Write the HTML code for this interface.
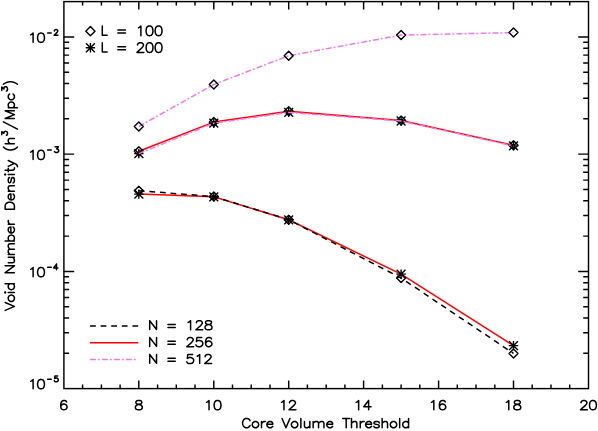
<!DOCTYPE html>
<html><head><meta charset="utf-8"><title>plot</title>
<style>html,body{margin:0;padding:0;background:#fff;}body{width:598px;height:431px;overflow:hidden;}svg{display:block;}</style>
</head><body>
<svg width="598" height="431" viewBox="0 0 598 431">
<rect x="0" y="0" width="598" height="431" fill="#ffffff"/>
<polyline points="138.8,194.1 213.8,196.8 288.7,219.8 401.1,274.1 513.5,345.6" fill="none" stroke="#ff0000" stroke-width="1.50" stroke-linejoin="round"/>
<polyline points="138.8,190.7 213.8,196.6 288.7,219.7 401.1,278.0 513.5,353.4" fill="none" stroke="#000" stroke-width="1.50" stroke-dasharray="5.8,4.8" stroke-linejoin="round"/>
<polyline points="138.8,151.2 213.8,122.1 288.7,111.3 401.1,120.4 513.5,145.3" fill="none" stroke="#ff0000" stroke-width="1.50" stroke-linejoin="round"/>
<polyline points="138.8,126.5 213.8,84.5 288.7,55.7 401.1,35.1 513.5,32.6" fill="none" stroke="#ee78ee" stroke-width="1.50" stroke-dasharray="5.9,2.0,1.8,2.3" stroke-linejoin="round"/>
<path d="M134.3,126.5 L138.8,122.0 L143.3,126.5 L138.8,131.0 Z" fill="none" stroke="#000" stroke-width="1.40" stroke-linejoin="round"/>
<path d="M209.3,84.5 L213.8,80.0 L218.3,84.5 L213.8,89.0 Z" fill="none" stroke="#000" stroke-width="1.40" stroke-linejoin="round"/>
<path d="M284.2,55.7 L288.7,51.2 L293.2,55.7 L288.7,60.2 Z" fill="none" stroke="#000" stroke-width="1.40" stroke-linejoin="round"/>
<path d="M396.6,35.1 L401.1,30.6 L405.6,35.1 L401.1,39.6 Z" fill="none" stroke="#000" stroke-width="1.40" stroke-linejoin="round"/>
<path d="M509.0,32.6 L513.5,28.1 L518.0,32.6 L513.5,37.1 Z" fill="none" stroke="#000" stroke-width="1.40" stroke-linejoin="round"/>
<path d="M134.3,151.2 L138.8,146.7 L143.3,151.2 L138.8,155.7 Z" fill="none" stroke="#000" stroke-width="1.40" stroke-linejoin="round"/>
<path d="M209.3,122.1 L213.8,117.6 L218.3,122.1 L213.8,126.6 Z" fill="none" stroke="#000" stroke-width="1.40" stroke-linejoin="round"/>
<path d="M284.2,111.3 L288.7,106.8 L293.2,111.3 L288.7,115.8 Z" fill="none" stroke="#000" stroke-width="1.40" stroke-linejoin="round"/>
<path d="M396.6,120.4 L401.1,115.9 L405.6,120.4 L401.1,124.9 Z" fill="none" stroke="#000" stroke-width="1.40" stroke-linejoin="round"/>
<path d="M509.0,145.3 L513.5,140.8 L518.0,145.3 L513.5,149.8 Z" fill="none" stroke="#000" stroke-width="1.40" stroke-linejoin="round"/>
<path d="M134.3,190.7 L138.8,186.2 L143.3,190.7 L138.8,195.2 Z" fill="none" stroke="#000" stroke-width="1.40" stroke-linejoin="round"/>
<path d="M209.3,196.6 L213.8,192.1 L218.3,196.6 L213.8,201.1 Z" fill="none" stroke="#000" stroke-width="1.40" stroke-linejoin="round"/>
<path d="M284.2,219.7 L288.7,215.2 L293.2,219.7 L288.7,224.2 Z" fill="none" stroke="#000" stroke-width="1.40" stroke-linejoin="round"/>
<path d="M396.6,278.0 L401.1,273.5 L405.6,278.0 L401.1,282.5 Z" fill="none" stroke="#000" stroke-width="1.40" stroke-linejoin="round"/>
<path d="M509.0,353.4 L513.5,348.9 L518.0,353.4 L513.5,357.9 Z" fill="none" stroke="#000" stroke-width="1.40" stroke-linejoin="round"/>
<path d="M134.1,153.6 H143.5 M138.8,148.9 V158.3 M134.4,149.2 L143.3,158.0 M134.4,158.0 L143.3,149.2" fill="none" stroke="#000" stroke-width="1.40"/>
<path d="M209.1,123.2 H218.5 M213.8,118.5 V127.9 M209.4,118.8 L218.2,127.6 M209.4,127.6 L218.2,118.8" fill="none" stroke="#000" stroke-width="1.40"/>
<path d="M284.0,112.4 H293.4 M288.7,107.7 V117.1 M284.3,108.0 L293.1,116.8 M284.3,116.8 L293.1,108.0" fill="none" stroke="#000" stroke-width="1.40"/>
<path d="M396.4,121.0 H405.8 M401.1,116.3 V125.7 M396.7,116.6 L405.5,125.4 M396.7,125.4 L405.5,116.6" fill="none" stroke="#000" stroke-width="1.40"/>
<path d="M508.8,145.9 H518.2 M513.5,141.2 V150.6 M509.1,141.5 L517.9,150.3 M509.1,150.3 L517.9,141.5" fill="none" stroke="#000" stroke-width="1.40"/>
<path d="M134.1,194.1 H143.5 M138.8,189.4 V198.8 M134.4,189.7 L143.3,198.5 M134.4,198.5 L143.3,189.7" fill="none" stroke="#000" stroke-width="1.40"/>
<path d="M209.1,196.8 H218.5 M213.8,192.1 V201.5 M209.4,192.4 L218.2,201.2 M209.4,201.2 L218.2,192.4" fill="none" stroke="#000" stroke-width="1.40"/>
<path d="M284.0,219.8 H293.4 M288.7,215.1 V224.5 M284.3,215.4 L293.1,224.2 M284.3,224.2 L293.1,215.4" fill="none" stroke="#000" stroke-width="1.40"/>
<path d="M396.4,274.1 H405.8 M401.1,269.4 V278.8 M396.7,269.7 L405.5,278.5 M396.7,278.5 L405.5,269.7" fill="none" stroke="#000" stroke-width="1.40"/>
<path d="M508.8,345.6 H518.2 M513.5,340.9 V350.3 M509.1,341.2 L517.9,350.0 M509.1,350.0 L517.9,341.2" fill="none" stroke="#000" stroke-width="1.40"/>
<polyline points="138.8,153.6 213.8,123.2 288.7,112.4 401.1,121.0 513.5,145.9" fill="none" stroke="#ee78ee" stroke-width="1.50" stroke-dasharray="5.9,2.0,1.8,2.3" stroke-linejoin="round"/>
<rect x="63.9" y="1.6" width="524.6" height="387.0" fill="none" stroke="#000" stroke-width="1.45"/>
<path d="M82.6,388.6 V384.6 M82.6,1.6 V5.6 M101.4,388.6 V384.6 M101.4,1.6 V5.6 M120.1,388.6 V384.6 M120.1,1.6 V5.6 M138.8,388.6 V380.6 M138.8,1.6 V9.6 M157.6,388.6 V384.6 M157.6,1.6 V5.6 M176.3,388.6 V384.6 M176.3,1.6 V5.6 M195.0,388.6 V384.6 M195.0,1.6 V5.6 M213.8,388.6 V380.6 M213.8,1.6 V9.6 M232.5,388.6 V384.6 M232.5,1.6 V5.6 M251.2,388.6 V384.6 M251.2,1.6 V5.6 M270.0,388.6 V384.6 M270.0,1.6 V5.6 M288.7,388.6 V380.6 M288.7,1.6 V9.6 M307.4,388.6 V384.6 M307.4,1.6 V5.6 M326.2,388.6 V384.6 M326.2,1.6 V5.6 M344.9,388.6 V384.6 M344.9,1.6 V5.6 M363.6,388.6 V380.6 M363.6,1.6 V9.6 M382.4,388.6 V384.6 M382.4,1.6 V5.6 M401.1,388.6 V384.6 M401.1,1.6 V5.6 M419.8,388.6 V384.6 M419.8,1.6 V5.6 M438.6,388.6 V380.6 M438.6,1.6 V9.6 M457.3,388.6 V384.6 M457.3,1.6 V5.6 M476.0,388.6 V384.6 M476.0,1.6 V5.6 M494.8,388.6 V384.6 M494.8,1.6 V5.6 M513.5,388.6 V380.6 M513.5,1.6 V9.6 M532.2,388.6 V384.6 M532.2,1.6 V5.6 M551.0,388.6 V384.6 M551.0,1.6 V5.6 M569.7,388.6 V384.6 M569.7,1.6 V5.6 M63.9,353.3 H69.1 M588.5,353.3 H583.2 M63.9,332.7 H69.1 M588.5,332.7 H583.2 M63.9,318.0 H69.1 M588.5,318.0 H583.2 M63.9,306.7 H69.1 M588.5,306.7 H583.2 M63.9,297.4 H69.1 M588.5,297.4 H583.2 M63.9,289.5 H69.1 M588.5,289.5 H583.2 M63.9,282.7 H69.1 M588.5,282.7 H583.2 M63.9,276.7 H69.1 M588.5,276.7 H583.2 M63.9,271.4 H74.2 M588.5,271.4 H578.2 M63.9,236.1 H69.1 M588.5,236.1 H583.2 M63.9,215.4 H69.1 M588.5,215.4 H583.2 M63.9,200.8 H69.1 M588.5,200.8 H583.2 M63.9,189.4 H69.1 M588.5,189.4 H583.2 M63.9,180.1 H69.1 M588.5,180.1 H583.2 M63.9,172.3 H69.1 M588.5,172.3 H583.2 M63.9,165.5 H69.1 M588.5,165.5 H583.2 M63.9,159.5 H69.1 M588.5,159.5 H583.2 M63.9,154.1 H74.2 M588.5,154.1 H578.2 M63.9,118.8 H69.1 M588.5,118.8 H583.2 M63.9,98.2 H69.1 M588.5,98.2 H583.2 M63.9,83.5 H69.1 M588.5,83.5 H583.2 M63.9,72.2 H69.1 M588.5,72.2 H583.2 M63.9,62.9 H69.1 M588.5,62.9 H583.2 M63.9,55.1 H69.1 M588.5,55.1 H583.2 M63.9,48.3 H69.1 M588.5,48.3 H583.2 M63.9,42.3 H69.1 M588.5,42.3 H583.2 M63.9,36.9 H74.2 M588.5,36.9 H578.2" fill="none" stroke="#000" stroke-width="1.45"/>
<path d="M85.8,31.2 L90.4,26.6 L95.0,31.2 L90.4,35.8 Z" fill="none" stroke="#000" stroke-width="1.40" stroke-linejoin="round"/>
<path d="M85.7,47.8 H95.1 M90.4,43.0 V52.5 M86.0,43.3 L94.8,52.2 M86.0,52.2 L94.8,43.3" fill="none" stroke="#000" stroke-width="1.40"/>
<path d="M90.0,325.9 H138.2" stroke="#000" stroke-width="1.5" stroke-dasharray="5.8,4.8" fill="none"/>
<path d="M90.0,342.7 H138.2" stroke="#ff0000" stroke-width="1.5" fill="none"/>
<path d="M90.0,359.5 H136.0" stroke="#ee78ee" stroke-width="1.5" stroke-dasharray="5.9,2.0,1.8,2.3" fill="none"/>
<path d="M66.59,401.88 L66.11,401.00 L64.64,400.56 L63.66,400.56 L62.19,401.00 L61.20,402.32 L60.72,404.52 L60.72,406.72 L61.20,408.48 L62.19,409.36 L63.66,409.80 L64.14,409.80 L65.61,409.36 L66.59,408.48 L67.09,407.16 L67.09,406.72 L66.59,405.40 L65.61,404.52 L64.14,404.08 L63.66,404.08 L62.19,404.52 L61.20,405.40 L60.72,406.72 M137.86,400.56 L136.39,401.00 L135.90,401.88 L135.90,402.76 L136.39,403.64 L137.37,404.08 L139.33,404.52 L140.80,404.96 L141.78,405.84 L142.27,406.72 L142.27,408.04 L141.78,408.92 L141.29,409.36 L139.82,409.80 L137.86,409.80 L136.39,409.36 L135.90,408.92 L135.41,408.04 L135.41,406.72 L135.90,405.84 L136.88,404.96 L138.35,404.52 L140.31,404.08 L141.29,403.64 L141.78,402.76 L141.78,401.88 L141.29,401.00 L139.82,400.56 L137.86,400.56 M206.58,402.32 L207.56,401.88 L209.03,400.56 L209.03,409.80 M217.05,400.56 L215.58,401.00 L214.60,402.32 L214.11,404.52 L214.11,405.84 L214.60,408.04 L215.58,409.36 L217.05,409.80 L218.03,409.80 L219.50,409.36 L220.48,408.04 L220.97,405.84 L220.97,404.52 L220.48,402.32 L219.50,401.00 L218.03,400.56 L217.05,400.56 M281.51,402.32 L282.49,401.88 L283.96,400.56 L283.96,409.80 M289.53,402.76 L289.53,402.32 L290.02,401.44 L290.51,401.00 L291.49,400.56 L293.45,400.56 L294.43,401.00 L294.92,401.44 L295.41,402.32 L295.41,403.20 L294.92,404.08 L293.94,405.40 L289.04,409.80 L295.90,409.80 M356.20,402.32 L357.18,401.88 L358.65,400.56 L358.65,409.80 M368.63,400.56 L363.73,406.72 L371.08,406.72 M368.63,400.56 L368.63,409.80 M431.38,402.32 L432.36,401.88 L433.83,400.56 L433.83,409.80 M445.28,401.88 L444.79,401.00 L443.32,400.56 L442.34,400.56 L440.87,401.00 L439.89,402.32 L439.40,404.52 L439.40,406.72 L439.89,408.48 L440.87,409.36 L442.34,409.80 L442.83,409.80 L444.30,409.36 L445.28,408.48 L445.77,407.16 L445.77,406.72 L445.28,405.40 L444.30,404.52 L442.83,404.08 L442.34,404.08 L440.87,404.52 L439.89,405.40 L439.40,406.72 M506.32,402.32 L507.30,401.88 L508.77,400.56 L508.77,409.80 M516.30,400.56 L514.83,401.00 L514.34,401.88 L514.34,402.76 L514.83,403.64 L515.81,404.08 L517.77,404.52 L519.24,404.96 L520.22,405.84 L520.71,406.72 L520.71,408.04 L520.22,408.92 L519.73,409.36 L518.26,409.80 L516.30,409.80 L514.83,409.36 L514.34,408.92 L513.85,408.04 L513.85,406.72 L514.34,405.84 L515.32,404.96 L516.79,404.52 L518.75,404.08 L519.73,403.64 L520.22,402.76 L520.22,401.88 L519.73,401.00 L518.26,400.56 L516.30,400.56 M581.01,402.76 L581.01,402.32 L581.50,401.44 L581.99,401.00 L582.97,400.56 L584.93,400.56 L585.91,401.00 L586.40,401.44 L586.89,402.32 L586.89,403.20 L586.40,404.08 L585.42,405.40 L580.52,409.80 L587.38,409.80 M592.46,400.56 L590.99,401.00 L590.01,402.32 L589.52,404.52 L589.52,405.84 L590.01,408.04 L590.99,409.36 L592.46,409.80 L593.44,409.80 L594.91,409.36 L595.89,408.04 L596.38,405.84 L596.38,404.52 L595.89,402.32 L594.91,401.00 L593.44,400.56 L592.46,400.56 M30.65,381.32 L31.63,380.88 L33.10,379.56 L33.10,388.80 M40.53,379.56 L39.06,380.00 L38.08,381.32 L37.59,383.52 L37.59,384.84 L38.08,387.04 L39.06,388.36 L40.53,388.80 L41.51,388.80 L42.98,388.36 L43.96,387.04 L44.45,384.84 L44.45,383.52 L43.96,381.32 L42.98,380.00 L41.51,379.56 L40.53,379.56 M47.65,379.34 L51.25,379.34 M57.69,376.07 L54.91,376.07 L54.63,378.53 L54.91,378.25 L55.74,377.98 L56.58,377.98 L57.41,378.25 L57.97,378.80 L58.25,379.62 L58.25,380.16 L57.97,380.98 L57.41,381.53 L56.58,381.80 L55.74,381.80 L54.91,381.53 L54.63,381.25 L54.35,380.71 M30.65,269.33 L31.63,268.89 L33.10,267.57 L33.10,276.81 M40.53,267.57 L39.06,268.01 L38.08,269.33 L37.59,271.53 L37.59,272.85 L38.08,275.05 L39.06,276.37 L40.53,276.81 L41.51,276.81 L42.98,276.37 L43.96,275.05 L44.45,272.85 L44.45,271.53 L43.96,269.33 L42.98,268.01 L41.51,267.57 L40.53,267.57 M47.65,267.36 L51.25,267.36 M56.50,264.09 L53.60,267.90 L57.95,267.90 M56.50,264.09 L56.50,269.81 M30.65,152.10 L31.63,151.66 L33.10,150.34 L33.10,159.58 M40.53,150.34 L39.06,150.78 L38.08,152.10 L37.59,154.30 L37.59,155.62 L38.08,157.82 L39.06,159.14 L40.53,159.58 L41.51,159.58 L42.98,159.14 L43.96,157.82 L44.45,155.62 L44.45,154.30 L43.96,152.10 L42.98,150.78 L41.51,150.34 L40.53,150.34 M47.65,150.12 L51.25,150.12 M55.14,146.85 L58.36,146.85 L56.60,149.03 L57.48,149.03 L58.06,149.30 L58.36,149.58 L58.65,150.40 L58.65,150.94 L58.36,151.76 L57.77,152.30 L56.89,152.58 L56.01,152.58 L55.14,152.30 L54.84,152.03 L54.55,151.49 M30.65,34.86 L31.63,34.42 L33.10,33.10 L33.10,42.34 M40.53,33.10 L39.06,33.54 L38.08,34.86 L37.59,37.06 L37.59,38.38 L38.08,40.58 L39.06,41.90 L40.53,42.34 L41.51,42.34 L42.98,41.90 L43.96,40.58 L44.45,38.38 L44.45,37.06 L43.96,34.86 L42.98,33.54 L41.51,33.10 L40.53,33.10 M47.65,32.89 L51.25,32.89 M54.42,30.98 L54.42,30.70 L54.69,30.16 L54.96,29.89 L55.51,29.61 L56.59,29.61 L57.14,29.89 L57.41,30.16 L57.68,30.70 L57.68,31.25 L57.41,31.80 L56.86,32.61 L54.15,35.34 L57.95,35.34 M102.30,26.11 L102.30,35.35 M102.30,35.35 L107.15,35.35 M117.85,30.11 L125.45,30.11 M117.85,33.02 L125.45,33.02 M138.45,27.83 L139.43,27.37 L140.90,25.99 L140.90,35.65 M149.00,25.99 L147.53,26.45 L146.56,27.83 L146.06,30.13 L146.06,31.51 L146.56,33.81 L147.53,35.19 L149.00,35.65 L149.99,35.65 L151.46,35.19 L152.44,33.81 L152.93,31.51 L152.93,30.13 L152.44,27.83 L151.46,26.45 L149.99,25.99 L149.00,25.99 M158.09,25.99 L156.62,26.45 L155.64,27.83 L155.15,30.13 L155.15,31.51 L155.64,33.81 L156.62,35.19 L158.09,35.65 L159.07,35.65 L160.54,35.19 L161.52,33.81 L162.01,31.51 L162.01,30.13 L161.52,27.83 L160.54,26.45 L159.07,25.99 L158.09,25.99 M102.30,42.86 L102.30,52.10 M102.30,52.10 L107.15,52.10 M117.85,46.86 L125.45,46.86 M117.85,49.77 L125.45,49.77 M137.54,45.04 L137.54,44.58 L138.03,43.66 L138.52,43.20 L139.50,42.74 L141.46,42.74 L142.44,43.20 L142.93,43.66 L143.42,44.58 L143.42,45.50 L142.93,46.42 L141.95,47.80 L137.05,52.40 L143.91,52.40 M149.04,42.74 L147.57,43.20 L146.59,44.58 L146.10,46.88 L146.10,48.26 L146.59,50.56 L147.57,51.94 L149.04,52.40 L150.02,52.40 L151.49,51.94 L152.47,50.56 L152.96,48.26 L152.96,46.88 L152.47,44.58 L151.49,43.20 L150.02,42.74 L149.04,42.74 M158.09,42.74 L156.62,43.20 L155.64,44.58 L155.15,46.88 L155.15,48.26 L155.64,50.56 L156.62,51.94 L158.09,52.40 L159.07,52.40 L160.54,51.94 L161.52,50.56 L162.01,48.26 L162.01,46.88 L161.52,44.58 L160.54,43.20 L159.07,42.74 L158.09,42.74 M149.70,320.68 L149.70,329.50 M149.70,320.68 L156.52,329.50 M156.52,320.68 L156.52,329.50 M167.95,324.46 L175.25,324.46 M167.95,327.40 L175.25,327.40 M188.15,322.41 L189.13,321.97 L190.60,320.67 L190.60,329.80 M196.38,322.84 L196.38,322.41 L196.87,321.54 L197.35,321.10 L198.34,320.67 L200.29,320.67 L201.28,321.10 L201.76,321.54 L202.25,322.41 L202.25,323.28 L201.76,324.15 L200.78,325.45 L195.88,329.80 L202.75,329.80 M207.54,320.67 L206.07,321.10 L205.58,321.97 L205.58,322.84 L206.07,323.71 L207.05,324.15 L209.01,324.58 L210.48,325.01 L211.46,325.88 L211.95,326.75 L211.95,328.06 L211.46,328.93 L210.97,329.37 L209.50,329.80 L207.54,329.80 L206.07,329.37 L205.58,328.93 L205.09,328.06 L205.09,326.75 L205.58,325.88 L206.56,325.01 L208.03,324.58 L209.99,324.15 L210.97,323.71 L211.46,322.84 L211.46,321.97 L210.97,321.10 L209.50,320.67 L207.54,320.67 M149.70,337.58 L149.70,346.40 M149.70,337.58 L156.52,346.40 M156.52,337.58 L156.52,346.40 M167.95,341.36 L175.25,341.36 M167.95,344.30 L175.25,344.30 M187.29,339.74 L187.29,339.31 L187.78,338.44 L188.27,338.00 L189.25,337.56 L191.21,337.56 L192.19,338.00 L192.68,338.44 L193.17,339.31 L193.17,340.18 L192.68,341.05 L191.70,342.35 L186.80,346.70 L193.66,346.70 M201.82,337.56 L196.93,337.56 L196.44,341.48 L196.93,341.05 L198.40,340.61 L199.87,340.61 L201.34,341.05 L202.31,341.91 L202.81,343.22 L202.81,344.09 L202.31,345.39 L201.34,346.26 L199.87,346.70 L198.40,346.70 L196.93,346.26 L196.44,345.83 L195.94,344.96 M211.46,338.87 L210.97,338.00 L209.50,337.56 L208.52,337.56 L207.05,338.00 L206.07,339.31 L205.58,341.48 L205.58,343.65 L206.07,345.39 L207.05,346.26 L208.52,346.70 L209.01,346.70 L210.48,346.26 L211.46,345.39 L211.95,344.09 L211.95,343.65 L211.46,342.35 L210.48,341.48 L209.01,341.05 L208.52,341.05 L207.05,341.48 L206.07,342.35 L205.58,343.65 M149.70,354.48 L149.70,363.30 M149.70,354.48 L156.52,363.30 M156.52,354.48 L156.52,363.30 M167.95,358.26 L175.25,358.26 M167.95,361.20 L175.25,361.20 M192.68,354.47 L187.78,354.47 L187.29,358.38 L187.78,357.95 L189.25,357.51 L190.72,357.51 L192.19,357.95 L193.17,358.81 L193.66,360.12 L193.66,360.99 L193.17,362.30 L192.19,363.17 L190.72,363.60 L189.25,363.60 L187.78,363.17 L187.29,362.73 L186.80,361.86 M197.22,356.21 L198.20,355.77 L199.67,354.47 L199.67,363.60 M205.18,356.64 L205.18,356.21 L205.67,355.34 L206.16,354.90 L207.14,354.47 L209.10,354.47 L210.08,354.90 L210.57,355.34 L211.06,356.21 L211.06,357.08 L210.57,357.95 L209.59,359.25 L204.69,363.60 L211.55,363.60 M250.00,420.66 L249.51,419.78 L248.53,418.90 L247.55,418.46 L245.59,418.46 L244.61,418.90 L243.63,419.78 L243.14,420.66 L242.65,421.98 L242.65,424.18 L243.14,425.50 L243.63,426.38 L244.61,427.26 L245.59,427.70 L247.55,427.70 L248.53,427.26 L249.51,426.38 L250.00,425.50 M254.72,421.54 L253.74,421.98 L252.76,422.86 L252.27,424.18 L252.27,425.06 L252.76,426.38 L253.74,427.26 L254.72,427.70 L256.19,427.70 L257.17,427.26 L258.15,426.38 L258.64,425.06 L258.64,424.18 L258.15,422.86 L257.17,421.98 L256.19,421.54 L254.72,421.54 M261.49,421.54 L261.49,427.70 M261.49,424.18 L261.98,422.86 L262.96,421.98 L263.94,421.54 L265.41,421.54 M266.87,424.18 L272.75,424.18 L272.75,423.30 L272.26,422.42 L271.77,421.98 L270.79,421.54 L269.32,421.54 L268.34,421.98 L267.36,422.86 L266.87,424.18 L266.87,425.06 L267.36,426.38 L268.34,427.26 L269.32,427.70 L270.79,427.70 L271.77,427.26 L272.75,426.38 M282.05,418.46 L285.97,427.70 M289.89,418.46 L285.97,427.70 M293.86,421.54 L292.88,421.98 L291.90,422.86 L291.41,424.18 L291.41,425.06 L291.90,426.38 L292.88,427.26 L293.86,427.70 L295.33,427.70 L296.31,427.26 L297.29,426.38 L297.78,425.06 L297.78,424.18 L297.29,422.86 L296.31,421.98 L295.33,421.54 L293.86,421.54 M300.86,418.46 L300.86,427.70 M304.46,421.54 L304.46,425.94 L304.95,427.26 L305.93,427.70 L307.40,427.70 L308.38,427.26 L309.85,425.94 M309.85,421.54 L309.85,427.70 M313.15,421.54 L313.15,427.70 M313.15,423.30 L314.62,421.98 L315.60,421.54 L317.07,421.54 L318.05,421.98 L318.54,423.30 L318.54,427.70 M318.54,423.30 L320.01,421.98 L320.99,421.54 L322.46,421.54 L323.44,421.98 L323.93,423.30 L323.93,427.70 M326.77,424.18 L332.65,424.18 L332.65,423.30 L332.16,422.42 L331.67,421.98 L330.69,421.54 L329.22,421.54 L328.24,421.98 L327.26,422.86 L326.77,424.18 L326.77,425.06 L327.26,426.38 L328.24,427.26 L329.22,427.70 L330.69,427.70 L331.67,427.26 L332.65,426.38 M346.18,418.46 L346.18,427.70 M342.75,418.46 L349.61,418.46 M351.50,418.46 L351.50,427.70 M351.50,423.30 L352.97,421.98 L353.95,421.54 L355.42,421.54 L356.40,421.98 L356.89,423.30 L356.89,427.70 M360.25,421.54 L360.25,427.70 M360.25,424.18 L360.74,422.86 L361.72,421.98 L362.70,421.54 L364.17,421.54 M365.64,424.18 L371.52,424.18 L371.52,423.30 L371.03,422.42 L370.54,421.98 L369.56,421.54 L368.09,421.54 L367.11,421.98 L366.13,422.86 L365.64,424.18 L365.64,425.06 L366.13,426.38 L367.11,427.26 L368.09,427.70 L369.56,427.70 L370.54,427.26 L371.52,426.38 M379.29,422.86 L378.80,421.98 L377.33,421.54 L375.86,421.54 L374.39,421.98 L373.90,422.86 L374.39,423.74 L375.37,424.18 L377.82,424.62 L378.80,425.06 L379.29,425.94 L379.29,426.38 L378.80,427.26 L377.33,427.70 L375.86,427.70 L374.39,427.26 L373.90,426.38 M382.13,418.46 L382.13,427.70 M382.13,423.30 L383.60,421.98 L384.58,421.54 L386.05,421.54 L387.03,421.98 L387.52,423.30 L387.52,427.70 M392.78,421.54 L391.80,421.98 L390.82,422.86 L390.33,424.18 L390.33,425.06 L390.82,426.38 L391.80,427.26 L392.78,427.70 L394.25,427.70 L395.23,427.26 L396.21,426.38 L396.70,425.06 L396.70,424.18 L396.21,422.86 L395.23,421.98 L394.25,421.54 L392.78,421.54 M399.67,418.46 L399.67,427.70 M408.55,418.46 L408.55,427.70 M408.55,422.86 L407.57,421.98 L406.59,421.54 L405.12,421.54 L404.14,421.98 L403.16,422.86 L402.67,424.18 L402.67,425.06 L403.16,426.38 L404.14,427.26 L405.12,427.70 L406.59,427.70 L407.57,427.26 L408.55,426.38" fill="none" stroke="#000" stroke-width="1.50" stroke-linecap="round" stroke-linejoin="round"/>
<path transform="translate(14.40,311.10) rotate(-90)" d="M0.75,-9.24 L4.67,0.00 M8.59,-9.24 L4.67,0.00 M12.08,-6.16 L11.10,-5.72 L10.12,-4.84 L9.63,-3.52 L9.63,-2.64 L10.12,-1.32 L11.10,-0.44 L12.08,0.00 L13.55,0.00 L14.53,-0.44 L15.51,-1.32 L16.00,-2.64 L16.00,-3.52 L15.51,-4.84 L14.53,-5.72 L13.55,-6.16 L12.08,-6.16 M18.22,-9.24 L18.71,-8.80 L19.20,-9.24 L18.71,-9.68 L18.22,-9.24 M18.71,-6.16 L18.71,0.00 M27.35,-9.24 L27.35,0.00 M27.35,-4.84 L26.37,-5.72 L25.39,-6.16 L23.92,-6.16 L22.94,-5.72 L21.96,-4.84 L21.47,-3.52 L21.47,-2.64 L21.96,-1.32 L22.94,-0.44 L23.92,0.00 L25.39,0.00 L26.37,-0.44 L27.35,-1.32" fill="none" stroke="#000" stroke-width="1.50" stroke-linecap="round" stroke-linejoin="round"/>
<path transform="translate(14.40,273.40) rotate(-90)" d="M0.75,-9.24 L0.75,0.00 M0.75,-9.24 L7.61,0.00 M7.61,-9.24 L7.61,0.00 M10.64,-6.16 L10.64,-1.76 L11.13,-0.44 L12.11,0.00 L13.58,0.00 L14.56,-0.44 L16.03,-1.76 M16.03,-6.16 L16.03,0.00 M18.83,-6.16 L18.83,0.00 M18.83,-4.40 L20.30,-5.72 L21.28,-6.16 L22.75,-6.16 L23.73,-5.72 L24.22,-4.40 L24.22,0.00 M24.22,-4.40 L25.69,-5.72 L26.67,-6.16 L28.14,-6.16 L29.12,-5.72 L29.61,-4.40 L29.61,0.00 M32.42,-9.24 L32.42,0.00 M32.42,-4.84 L33.40,-5.72 L34.38,-6.16 L35.85,-6.16 L36.83,-5.72 L37.81,-4.84 L38.30,-3.52 L38.30,-2.64 L37.81,-1.32 L36.83,-0.44 L35.85,0.00 L34.38,0.00 L33.40,-0.44 L32.42,-1.32 M40.43,-3.52 L46.31,-3.52 L46.31,-4.40 L45.82,-5.28 L45.33,-5.72 L44.35,-6.16 L42.88,-6.16 L41.90,-5.72 L40.92,-4.84 L40.43,-3.52 L40.43,-2.64 L40.92,-1.32 L41.90,-0.44 L42.88,0.00 L44.35,0.00 L45.33,-0.44 L46.31,-1.32 M49.03,-6.16 L49.03,0.00 M49.03,-3.52 L49.52,-4.84 L50.50,-5.72 L51.48,-6.16 L52.95,-6.16" fill="none" stroke="#000" stroke-width="1.50" stroke-linecap="round" stroke-linejoin="round"/>
<path transform="translate(14.40,209.90) rotate(-90)" d="M0.75,-9.24 L0.75,0.00 M0.75,-9.24 L4.18,-9.24 L5.65,-8.80 L6.63,-7.92 L7.12,-7.04 L7.61,-5.72 L7.61,-3.52 L7.12,-2.20 L6.63,-1.32 L5.65,-0.44 L4.18,0.00 L0.75,0.00 M9.98,-3.52 L15.86,-3.52 L15.86,-4.40 L15.37,-5.28 L14.88,-5.72 L13.90,-6.16 L12.43,-6.16 L11.45,-5.72 L10.47,-4.84 L9.98,-3.52 L9.98,-2.64 L10.47,-1.32 L11.45,-0.44 L12.43,0.00 L13.90,0.00 L14.88,-0.44 L15.86,-1.32 M18.75,-6.16 L18.75,0.00 M18.75,-4.40 L20.22,-5.72 L21.20,-6.16 L22.67,-6.16 L23.65,-5.72 L24.14,-4.40 L24.14,0.00 M32.43,-4.84 L31.94,-5.72 L30.47,-6.16 L29.00,-6.16 L27.53,-5.72 L27.04,-4.84 L27.53,-3.96 L28.51,-3.52 L30.96,-3.08 L31.94,-2.64 L32.43,-1.76 L32.43,-1.32 L31.94,-0.44 L30.47,0.00 L29.00,0.00 L27.53,-0.44 L27.04,-1.32 M34.98,-9.24 L35.47,-8.80 L35.96,-9.24 L35.47,-9.68 L34.98,-9.24 M35.47,-6.16 L35.47,0.00 M39.61,-9.24 L39.61,-1.76 L40.10,-0.44 L41.08,0.00 L42.06,0.00 M38.14,-6.16 L41.57,-6.16 M43.57,-6.16 L46.51,0.00 M49.45,-6.16 L46.51,0.00 L45.53,1.76 L44.55,2.64 L43.57,3.08 L43.08,3.08" fill="none" stroke="#000" stroke-width="1.50" stroke-linecap="round" stroke-linejoin="round"/>
<path transform="translate(14.40,150.80) rotate(-90)" d="M3.85,-11.00 L2.96,-10.12 L2.08,-8.80 L1.19,-7.04 L0.75,-4.84 L0.75,-3.08 L1.19,-0.88 L2.08,0.88 L2.96,2.20 L3.85,3.08" fill="none" stroke="#000" stroke-width="1.50" stroke-linecap="round" stroke-linejoin="round"/>
<path transform="translate(14.40,144.45) rotate(-90)" d="M0.75,-9.24 L0.75,0.00 M0.75,-4.40 L2.15,-5.72 L3.09,-6.16 L4.50,-6.16 L5.43,-5.72 L5.90,-4.40 L5.90,0.00" fill="none" stroke="#000" stroke-width="1.50" stroke-linecap="round" stroke-linejoin="round"/>
<path transform="translate(7.50,136.00) rotate(-90)" d="M1.31,-5.73 L4.37,-5.73 L2.70,-3.55 L3.54,-3.55 L4.09,-3.27 L4.37,-3.00 L4.65,-2.18 L4.65,-1.64 L4.37,-0.82 L3.81,-0.27 L2.98,0.00 L2.14,0.00 L1.31,-0.27 L1.03,-0.55 L0.75,-1.09" fill="none" stroke="#000" stroke-width="1.50" stroke-linecap="round" stroke-linejoin="round"/>
<path transform="translate(14.40,129.90) rotate(-90)" d="M8.05,-11.00 L0.75,3.08" fill="none" stroke="#000" stroke-width="1.50" stroke-linecap="round" stroke-linejoin="round"/>
<path transform="translate(14.40,119.30) rotate(-90)" d="M0.75,-9.24 L0.75,0.00 M0.75,-9.24 L4.67,0.00 M8.59,-9.24 L4.67,0.00 M8.59,-9.24 L8.59,0.00 M11.49,-6.16 L11.49,3.08 M11.49,-4.84 L12.47,-5.72 L13.45,-6.16 L14.92,-6.16 L15.90,-5.72 L16.88,-4.84 L17.37,-3.52 L17.37,-2.64 L16.88,-1.32 L15.90,-0.44 L14.92,0.00 L13.45,0.00 L12.47,-0.44 L11.49,-1.32 M25.35,-4.84 L24.37,-5.72 L23.39,-6.16 L21.92,-6.16 L20.94,-5.72 L19.96,-4.84 L19.47,-3.52 L19.47,-2.64 L19.96,-1.32 L20.94,-0.44 L21.92,0.00 L23.39,0.00 L24.37,-0.44 L25.35,-1.32" fill="none" stroke="#000" stroke-width="1.50" stroke-linecap="round" stroke-linejoin="round"/>
<path transform="translate(7.50,91.80) rotate(-90)" d="M1.36,-5.73 L4.74,-5.73 L2.90,-3.55 L3.82,-3.55 L4.44,-3.27 L4.74,-3.00 L5.05,-2.18 L5.05,-1.64 L4.74,-0.82 L4.13,-0.27 L3.21,0.00 L2.29,0.00 L1.36,-0.27 L1.06,-0.55 L0.75,-1.09" fill="none" stroke="#000" stroke-width="1.50" stroke-linecap="round" stroke-linejoin="round"/>
<path transform="translate(14.40,85.00) rotate(-90)" d="M0.75,-11.00 L1.44,-10.12 L2.12,-8.80 L2.81,-7.04 L3.15,-4.84 L3.15,-3.08 L2.81,-0.88 L2.12,0.88 L1.44,2.20 L0.75,3.08" fill="none" stroke="#000" stroke-width="1.50" stroke-linecap="round" stroke-linejoin="round"/>
</svg></body></html>
